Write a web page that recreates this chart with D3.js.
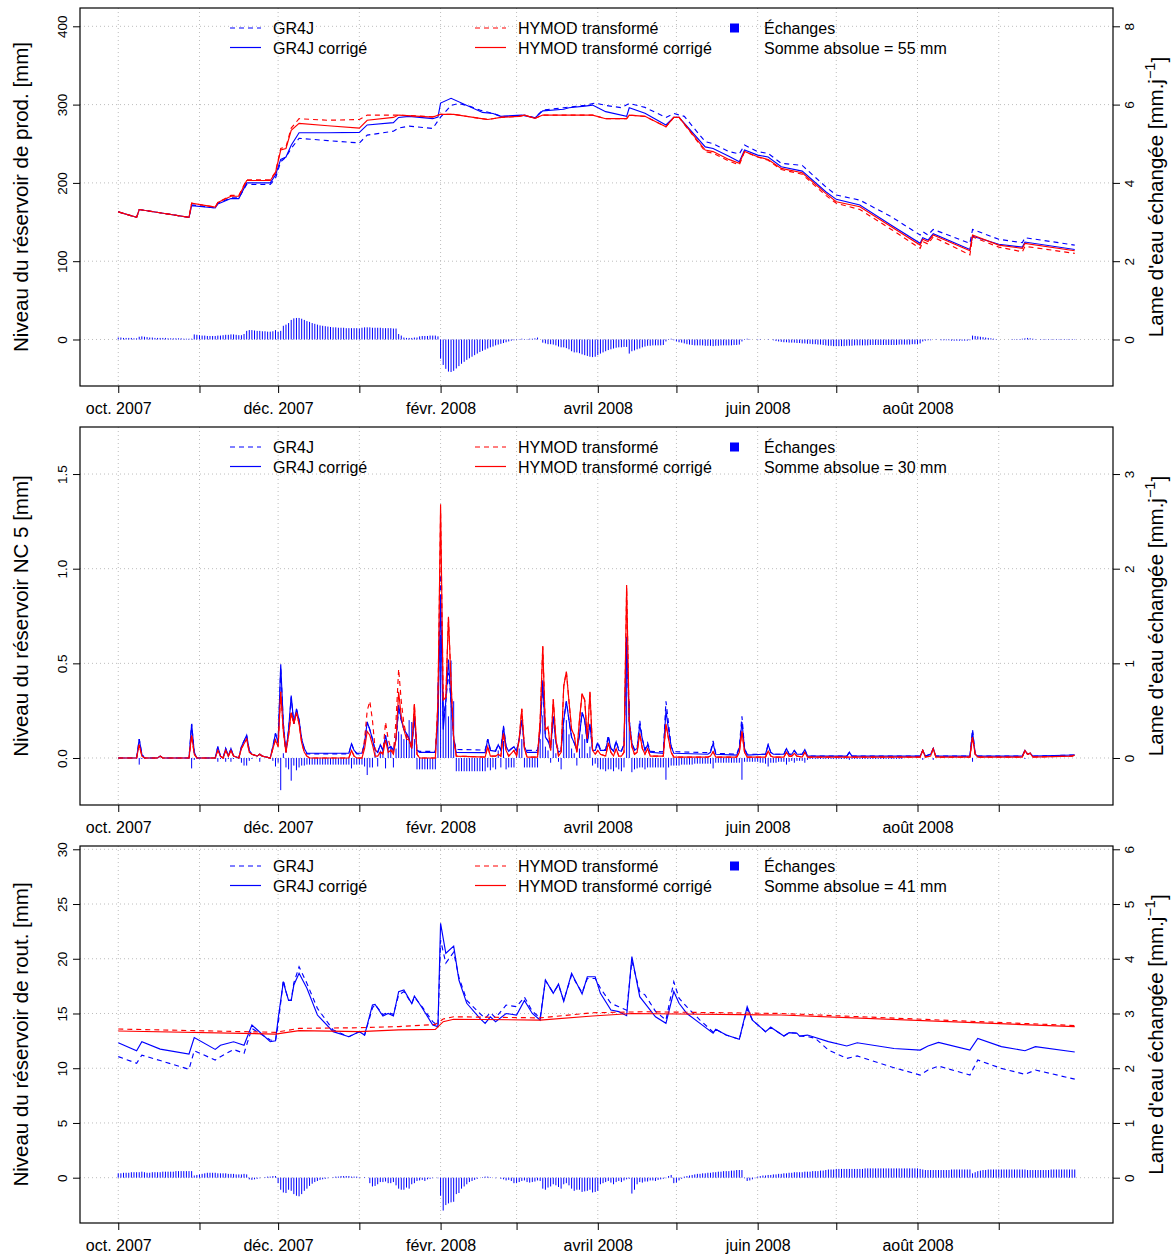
<!DOCTYPE html>
<html><head><meta charset="utf-8">
<script src="https://cdn.jsdelivr.net/npm/d3@7"></script>
<style>
body{margin:0;background:#fff}
text{font-family:"Liberation Sans",Arial,Helvetica,sans-serif;fill:#000}
</style></head>
<body><svg id="c" width="1174" height="1256"></svg>
<script>
// ---------- DATA ----------
const monthLabels = ["oct. 2007","","déc. 2007","","févr. 2008","","avril 2008","","juin 2008","","août 2008",""];
const seriesNames = ["GR4J","GR4J corrigé","HYMOD transformé","HYMOD transformé corrigé"];
const exchangeName = "Échanges";
const absSums = ["Somme absolue = 55 mm","Somme absolue = 30 mm","Somme absolue = 41 mm"];
const leftTitles = ["Niveau du réservoir de prod. [mm]","Niveau du réservoir NC 5 [mm]","Niveau du réservoir de rout. [mm]"];

// Panel 1 : production store [day index from 1 Oct 2007, mm]
const prod_gr4j = [[0,163],[7,156],[8,166],[27,156],[28,172],[37,168],[38,174],[43,181],[46,181],[49,198],[58,198],[60,206],[62,227],[64,233],[66,244],[69,257],[80,254],[92,251],[95,261],[105,266],[107,270],[111,272.5],[120,269.6],[123,284],[127,299],[130,301.5],[134,298],[138,293],[143,288.7],[146,285],[153,285],[155,286.6],[159,283],[162,293],[170,296],[178,299],[182,302],[186,299],[192,296],[195,301.5],[201,296.4],[209,283.6],[212,288.7],[216,285],[224,252.6],[227,250],[233,240],[237,237],[239,248.3],[244,240],[248,237.6],[253,225],[261,222.3],[270,195],[274,184.5],[283,178],[295,156.8],[306,133.4],[307,137.7],[309,133.4],[311,140.6],[325,122.8],[326,140.6],[336,128],[345,123.6],[346,130],[365,120.6]];
const prod_gr4jc = [[0,163],[7,156],[8,166],[27,156],[28,171],[37,168],[38,173],[43,180],[46,180],[49,200],[58,200],[60,210],[62,230],[64,233],[66,248],[69,264],[80,264],[92,264.5],[95,274],[105,277],[107,283.6],[111,285],[120,282],[122,284],[123,302],[127,308],[139,290],[143,288.7],[146,285],[154,286.6],[159,283],[162,292],[170,294],[172,296],[178,298],[181,299.4],[186,291],[194,285],[195,296],[201,289],[209,274],[212,283.6],[214,283.6],[224,246],[227,244],[233,234],[237,227],[239,242],[244,235.5],[248,233],[253,220.6],[261,215],[270,188.7],[274,179],[283,171.7],[295,146],[306,122.8],[307,130],[309,127],[311,135],[325,115],[326,132],[336,121.7],[345,118],[346,124.5],[365,115]];
const prod_hym = [[0,163],[7,156],[8,166],[27,156],[28,174],[37,169],[38,175],[43,184],[46,184],[49,204],[58,204],[60,214],[62,244],[64,246],[66,270],[69,282],[80,280],[92,281],[95,286.6],[107,286.6],[120,284.5],[123,287.6],[128,287.6],[138,282.4],[141,281],[146,283.6],[153,285],[155,286.6],[159,282.4],[162,286.6],[181,286.6],[186,282],[194,282],[195,286.6],[201,285],[209,271.7],[212,283.6],[214,283.6],[224,240],[227,238],[233,228],[237,223],[239,240],[244,233],[248,229],[253,217],[261,211],[270,184],[274,174],[283,166],[295,140.6],[306,116.4],[307,125],[309,122],[311,131],[325,108],[326,131],[336,118],[345,112],[346,119],[365,110]];
const prod_hymc = [[0,163],[7,156],[8,166],[27,156],[28,174],[37,169],[38,175],[43,183],[46,183],[49,203],[58,203],[60,213],[62,242],[64,244],[66,267],[69,276],[80,273],[92,270],[95,280],[105,283.6],[107,286.6],[120,284],[123,287.6],[128,287.6],[138,282.4],[141,281],[146,283.6],[153,285],[155,286.6],[159,282.4],[162,286.6],[181,286.6],[186,282],[194,282],[195,286.6],[201,285],[209,271.7],[212,283.6],[214,283.6],[224,242],[227,240],[233,230],[237,225],[239,240],[244,233.4],[248,230],[253,218.5],[261,213],[270,186.6],[274,176],[283,169.6],[295,144],[306,120.6],[307,128],[309,125],[311,133.4],[325,113.4],[326,133.4],[336,120.6],[345,116.4],[346,122.8],[365,113.4]];
// daily exchanges, mm/d, 1 Oct 2007 .. 30 Sep 2008
const ex_prod = [
0.05,0.05,0.04,0.04,0.04,0.04,0.03,0.03,0.07,0.08,
0.07,0.06,0.05,0.05,0.04,0.04,0.04,0.04,0.04,0.03,
0.03,0.03,0.03,0.03,0.03,0.02,0.02,0.02,0.02,
0.13,0.12,0.11,0.1,0.1,0.09,0.09,0.09,0.09,0.1,
0.1,0.11,0.12,0.12,0.13,0.13,0.12,0.11,0.11,0.14,
0.22,0.24,0.24,0.23,0.22,0.22,0.21,0.21,0.2,0.2,0.21,
0.24,0.2,0.22,0.35,0.38,0.42,0.5,0.54,0.55,0.55,0.53,
0.5,0.47,0.45,0.42,0.4,0.38,0.36,0.35,0.34,0.33,
0.32,0.31,0.31,0.3,0.3,0.3,0.29,0.29,0.29,0.29,0.29,0.28,
0.3,0.31,0.31,0.31,0.3,0.3,0.3,0.3,0.29,0.29,0.29,0.29,0.28,0.28,0.14,
0.1,0.05,0.04,0.04,0.04,0.05,0.05,
0.08,0.09,0.09,0.09,0.1,0.1,0.1,0.08,
-0.49,-0.65,-0.75,-0.82,-0.83,-0.8,-0.74,-0.68,-0.62,-0.57,
-0.52,-0.48,-0.44,-0.4,-0.36,-0.32,-0.29,-0.26,-0.23,-0.2,
-0.18,-0.15,-0.13,-0.11,-0.09,-0.07,-0.05,-0.03,-0.02,
0.01,0.01,0.02,0.01,0.01,0.02,0.02,0.03,0.05,0.0,
-0.08,-0.1,-0.12,-0.12,-0.13,-0.15,-0.18,-0.2,-0.2,-0.22,
-0.25,-0.3,-0.33,-0.33,-0.35,-0.38,-0.4,-0.42,-0.44,-0.45,-0.44,
-0.4,-0.36,-0.33,-0.3,-0.27,-0.25,-0.23,-0.21,-0.2,-0.2,-0.19,-0.19,-0.36,
-0.3,-0.28,-0.25,-0.23,-0.2,-0.18,-0.16,-0.16,-0.15,-0.15,-0.15,-0.15,-0.14,-0.05,0.01,0.02,
-0.02,-0.05,-0.07,-0.08,-0.1,-0.12,-0.13,-0.14,-0.15,-0.15,
-0.15,-0.15,-0.16,-0.16,-0.16,-0.17,-0.16,-0.16,-0.15,-0.15,
-0.15,-0.15,-0.15,-0.14,-0.14,-0.13,-0.05,0.01,0.02,
0.01,0.0,0.0,-0.01,-0.01,0.0,0.0,0.01,0.0,-0.02,-0.04,
-0.05,-0.06,-0.07,-0.07,-0.08,-0.08,-0.08,-0.09,-0.09,-0.1,-0.1,
-0.11,-0.11,-0.12,-0.12,-0.13,-0.13,-0.14,-0.15,-0.16,-0.16,-0.17,
-0.17,-0.17,-0.17,-0.17,-0.16,-0.16,-0.16,-0.15,-0.15,-0.15,-0.15,
-0.15,-0.15,-0.14,-0.14,-0.14,-0.14,-0.14,-0.14,-0.14,-0.14,-0.14,
-0.14,-0.14,-0.13,-0.13,-0.13,-0.13,-0.13,-0.12,-0.12,-0.12,-0.1,-0.05,-0.03,
-0.02,-0.02,0.0,0.01,0.0,-0.02,-0.02,-0.02,-0.02,-0.03,-0.03,-0.03,-0.03,-0.03,-0.03,-0.03,-0.02,
0.1,0.09,0.08,0.07,0.06,0.05,0.04,0.03,0.02,0.01,
0,0,0,0,0,-0.01,-0.01,-0.01,-0.01,0.02,
0.03,0.04,0.03,0.02,0.01,0,-0.01,-0.01,-0.01,-0.01,
-0.01,-0.01,-0.01,-0.01,-0.01,-0.01,-0.01,-0.01,-0.01,-0.01];

// Panel 2 : NC 5 store [mm]
const nc_gr4jc = [[0,0],[7,0],[8,0.1],[9,0.02],[10,0],[15,0],[16,0.01],[17,0],[27,0],[28,0.18],[29,0.03],[30,0],[37,0],[38,0.06],[39,0.01],[40,0],[41,0.05],[42,0.01],[43,0.05],[44,0.01],[46,0],[47,0.06],[49,0.12],[50,0.04],[51,0.02],[53,0.01],[54,0.02],[55,0.01],[58,0],[59,0.06],[60,0.13],[61,0.08],[62,0.495],[63,0.18],[64,0.03],[65,0.15],[66,0.33],[67,0.18],[68,0.26],[69,0.2],[70,0.1],[71,0.05],[72,0.025],[88,0.025],[89,0.075],[90,0.04],[91,0.025],[93,0.025],[94,0.08],[95,0.19],[96,0.15],[97,0.1],[98,0.04],[99,0.03],[100,0.07],[101,0.04],[102,0.12],[103,0.05],[104,0.06],[105,0.04],[106,0.1],[107,0.28],[108,0.2],[109,0.15],[110,0.13],[111,0.1],[112,0.05],[113,0.22],[114,0.04],[115,0.03],[121,0.03],[122,0.2],[123,0.84],[124,0.15],[125,0.3],[126,0.52],[127,0.3],[128,0.1],[129,0.03],[140,0.028],[141,0.1],[142,0.04],[144,0.035],[145,0.07],[146,0.04],[147,0.165],[148,0.06],[149,0.035],[151,0.06],[152,0.035],[153,0.1],[154,0.2],[155,0.06],[156,0.03],[160,0.03],[161,0.15],[162,0.41],[163,0.11],[164,0.09],[165,0.05],[166,0.22],[167,0.08],[168,0.03],[169,0.04],[170,0.2],[171,0.3],[172,0.2],[173,0.11],[174,0.08],[175,0.04],[176,0.12],[177,0.24],[178,0.2],[179,0.08],[180,0.18],[181,0.04],[182,0.04],[183,0.077],[184,0.04],[186,0.04],[187,0.11],[188,0.05],[189,0.035],[190,0.085],[191,0.04],[192,0.035],[193,0.07],[194,0.64],[195,0.2],[196,0.08],[197,0.04],[198,0.05],[199,0.174],[200,0.1],[201,0.04],[202,0.07],[203,0.03],[208,0.025],[209,0.25],[210,0.15],[211,0.06],[212,0.025],[225,0.02],[226,0.03],[227,0.077],[228,0.02],[236,0.015],[237,0.05],[238,0.19],[239,0.05],[240,0.015],[247,0.02],[248,0.07],[249,0.03],[250,0.02],[254,0.02],[255,0.05],[256,0.02],[257,0.02],[258,0.04],[259,0.02],[261,0.02],[262,0.045],[263,0.01],[278,0.01],[279,0.03],[280,0.01],[306,0.01],[307,0.04],[308,0.01],[310,0.02],[311,0.05],[312,0.01],[325,0.01],[326,0.14],[327,0.02],[328,0.01],[345,0.01],[346,0.04],[347,0.02],[348,0.025],[349,0.01],[365,0.016]];
const nc_gr4j = [[0,0],[7,0],[8,0.1],[9,0.02],[10,0],[15,0],[16,0.01],[17,0],[27,0],[28,0.18],[29,0.03],[30,0],[37,0],[38,0.06],[39,0.01],[40,0],[41,0.05],[42,0.01],[43,0.05],[44,0.01],[46,0],[47,0.06],[49,0.12],[50,0.04],[51,0.02],[53,0.01],[54,0.02],[55,0.01],[58,0],[59,0.06],[60,0.13],[61,0.08],[62,0.48],[63,0.18],[64,0.03],[65,0.15],[66,0.32],[67,0.18],[68,0.26],[69,0.2],[70,0.1],[71,0.05],[72,0.022],[88,0.022],[89,0.075],[90,0.04],[91,0.022],[93,0.022],[94,0.08],[95,0.19],[96,0.15],[97,0.1],[98,0.04],[99,0.03],[100,0.07],[101,0.04],[102,0.12],[103,0.05],[104,0.06],[105,0.04],[106,0.1],[107,0.25],[108,0.2],[109,0.15],[110,0.13],[111,0.1],[112,0.05],[113,0.22],[114,0.04],[115,0.035],[121,0.035],[122,0.25],[123,0.97],[124,0.2],[125,0.3],[126,0.45],[127,0.3],[128,0.1],[129,0.045],[140,0.042],[141,0.1],[142,0.045],[144,0.04],[145,0.07],[146,0.045],[147,0.17],[148,0.06],[149,0.04],[151,0.06],[152,0.04],[153,0.1],[154,0.2],[155,0.06],[156,0.04],[160,0.04],[161,0.15],[162,0.4],[163,0.11],[164,0.09],[165,0.05],[166,0.22],[167,0.08],[168,0.04],[169,0.045],[170,0.2],[171,0.3],[172,0.2],[173,0.11],[174,0.08],[175,0.045],[176,0.12],[177,0.24],[178,0.2],[179,0.08],[180,0.18],[181,0.045],[182,0.045],[183,0.085],[184,0.045],[186,0.045],[187,0.12],[188,0.05],[189,0.04],[190,0.09],[191,0.045],[192,0.04],[193,0.07],[194,0.62],[195,0.2],[196,0.08],[197,0.045],[198,0.05],[199,0.2],[200,0.1],[201,0.045],[202,0.08],[203,0.035],[208,0.033],[209,0.3],[210,0.18],[211,0.06],[212,0.033],[225,0.028],[226,0.035],[227,0.09],[228,0.025],[236,0.02],[237,0.06],[238,0.22],[239,0.05],[240,0.02],[247,0.02],[248,0.07],[249,0.03],[250,0.02],[254,0.02],[255,0.05],[256,0.02],[257,0.02],[258,0.04],[259,0.02],[261,0.02],[262,0.045],[263,0.01],[278,0.01],[279,0.03],[280,0.01],[306,0.01],[307,0.04],[308,0.01],[310,0.02],[311,0.05],[312,0.01],[325,0.01],[326,0.15],[327,0.02],[328,0.01],[345,0.01],[346,0.04],[347,0.02],[348,0.025],[349,0.01],[365,0.016]];
const nc_hymc = [[0,0],[7,0],[8,0.07],[9,0.01],[10,0],[15,0],[16,0.01],[17,0],[27,0],[28,0.12],[29,0.02],[30,0],[37,0],[38,0.04],[39,0.01],[40,0],[41,0.04],[42,0.01],[43,0.04],[44,0.01],[46,0],[47,0.05],[49,0.1],[50,0.03],[51,0.02],[53,0.01],[54,0.02],[55,0.01],[58,0],[59,0.05],[60,0.095],[61,0.06],[62,0.35],[63,0.14],[64,0.03],[65,0.12],[66,0.24],[67,0.18],[68,0.24],[69,0.18],[70,0.08],[71,0.03],[72,0.01],[73,0],[88,0],[89,0.04],[90,0.01],[91,0],[93,0],[94,0.05],[95,0.14],[96,0.12],[97,0.07],[98,0.01],[99,0.01],[100,0.03],[101,0.02],[102,0.095],[103,0.03],[104,0.04],[105,0.02],[106,0.1],[107,0.35],[108,0.22],[109,0.15],[110,0.1],[111,0.095],[112,0.05],[113,0.285],[114,0.02],[115,0],[121,0],[122,0.3],[123,1.34],[124,0.306],[125,0.32],[126,0.746],[127,0.4],[128,0.1],[129,0.01],[140,0.005],[141,0.06],[142,0.01],[144,0.01],[145,0.02],[146,0.01],[147,0.13],[148,0.04],[149,0.01],[151,0.04],[152,0.01],[153,0.1],[154,0.26],[155,0.05],[156,0.005],[160,0.005],[161,0.2],[162,0.59],[163,0.15],[164,0.165],[165,0.04],[166,0.31],[167,0.1],[168,0.01],[169,0.03],[170,0.38],[171,0.456],[172,0.3],[173,0.15],[174,0.12],[175,0.03],[176,0.2],[177,0.34],[178,0.306],[179,0.1],[180,0.35],[181,0.04],[182,0.02],[183,0.04],[184,0.02],[186,0.01],[187,0.08],[188,0.03],[189,0.01],[190,0.05],[191,0.01],[192,0.01],[193,0.03],[194,0.914],[195,0.18],[196,0.06],[197,0.02],[198,0.03],[199,0.13],[200,0.05],[201,0.02],[202,0.05],[203,0.01],[208,0.01],[209,0.18],[210,0.1],[211,0.03],[212,0.005],[225,0.005],[226,0.01],[227,0.033],[228,0.005],[236,0.005],[237,0.03],[238,0.14],[239,0.03],[240,0.005],[247,0.005],[248,0.037],[249,0.01],[250,0.005],[254,0.005],[255,0.03],[256,0.01],[257,0.01],[258,0.025],[259,0.01],[261,0.005],[262,0.03],[263,0.005],[306,0.005],[307,0.04],[308,0.005],[310,0.01],[311,0.05],[312,0.005],[325,0.005],[326,0.11],[327,0.02],[328,0.005],[345,0.005],[346,0.04],[347,0.02],[348,0.025],[349,0.005],[364,0.01],[365,0.016]];
const nc_hym = [[0,0],[7,0],[8,0.07],[9,0.01],[10,0],[15,0],[16,0.01],[17,0],[27,0],[28,0.12],[29,0.02],[30,0],[37,0],[38,0.04],[39,0.01],[40,0],[41,0.04],[42,0.01],[43,0.04],[44,0.01],[46,0],[47,0.05],[49,0.1],[50,0.03],[51,0.02],[53,0.01],[54,0.02],[55,0.01],[58,0],[59,0.05],[60,0.095],[61,0.06],[62,0.35],[63,0.14],[64,0.03],[65,0.12],[66,0.24],[67,0.18],[68,0.24],[69,0.18],[70,0.08],[71,0.03],[72,0.01],[73,0],[88,0],[89,0.04],[90,0.01],[91,0],[93,0],[94,0.1],[95,0.25],[96,0.3],[97,0.2],[98,0.05],[99,0.02],[100,0.03],[101,0.03],[102,0.19],[103,0.1],[104,0.05],[105,0.03],[106,0.2],[107,0.47],[108,0.3],[109,0.18],[110,0.12],[111,0.1],[112,0.05],[113,0.285],[114,0.02],[115,0],[121,0],[122,0.3],[123,1.3],[124,0.306],[125,0.32],[126,0.74],[127,0.4],[128,0.1],[129,0.01],[140,0.005],[141,0.06],[142,0.01],[144,0.01],[145,0.02],[146,0.01],[147,0.13],[148,0.04],[149,0.01],[151,0.04],[152,0.01],[153,0.1],[154,0.26],[155,0.05],[156,0.005],[160,0.005],[161,0.2],[162,0.59],[163,0.15],[164,0.165],[165,0.04],[166,0.31],[167,0.1],[168,0.01],[169,0.03],[170,0.38],[171,0.456],[172,0.3],[173,0.15],[174,0.12],[175,0.03],[176,0.2],[177,0.34],[178,0.306],[179,0.1],[180,0.35],[181,0.04],[182,0.02],[183,0.04],[184,0.02],[186,0.01],[187,0.08],[188,0.03],[189,0.01],[190,0.05],[191,0.01],[192,0.01],[193,0.03],[194,0.9],[195,0.18],[196,0.06],[197,0.02],[198,0.03],[199,0.13],[200,0.05],[201,0.02],[202,0.05],[203,0.01],[208,0.01],[209,0.18],[210,0.1],[211,0.03],[212,0.005],[225,0.005],[226,0.01],[227,0.033],[228,0.005],[236,0.005],[237,0.03],[238,0.14],[239,0.03],[240,0.005],[247,0.005],[248,0.037],[249,0.01],[250,0.005],[254,0.005],[255,0.03],[256,0.01],[257,0.01],[258,0.025],[259,0.01],[261,0.005],[262,0.03],[263,0.005],[306,0.005],[307,0.04],[308,0.005],[310,0.01],[311,0.05],[312,0.005],[325,0.005],[326,0.11],[327,0.02],[328,0.005],[345,0.005],[346,0.04],[347,0.02],[348,0.025],[349,0.005],[364,0.01],[365,0.016]];
const ex_nc = [
0,0,0,0,0,0,0,0,-0.07,-0.01,
0,0,0,0,0,0,0,0,0,0,
0,0,0,0,0,0,0,0,-0.11,-0.02,
0,0,0,0,0,0,0,0,-0.04,-0.01,
0,-0.04,-0.01,-0.04,-0.01,0,0,-0.05,-0.08,-0.08,
-0.03,-0.01,0,0,-0.04,0,0,0,0,-0.03,
-0.09,-0.05,-0.34,0.05,-0.1,-0.12,-0.24,-0.08,-0.13,-0.1,
-0.08,-0.08,-0.07,-0.07,-0.07,-0.07,-0.07,-0.07,-0.07,-0.07,
-0.07,-0.07,-0.07,-0.07,-0.07,-0.07,-0.07,-0.07,-0.07,-0.11,
-0.07,-0.07,-0.07,-0.07,-0.09,-0.18,-0.1,-0.1,0.06,-0.09,
0.08,0.1,-0.11,0.1,0.12,-0.1,0.1,0.28,0.25,0.2,
0.26,0.4,0.38,0.2,-0.12,-0.12,-0.12,-0.12,-0.12,-0.12,
-0.12,-0.12,0.8,1.3,0.7,0.56,0.44,1.03,0.6,-0.14,
-0.14,-0.14,-0.14,-0.14,-0.14,-0.14,-0.14,-0.14,-0.14,-0.14,
-0.14,-0.1,-0.13,-0.1,-0.12,0.08,-0.1,0.18,-0.12,-0.1,
-0.1,-0.1,0.05,0.1,0.2,-0.1,-0.1,-0.1,-0.1,-0.1,
-0.1,0.2,0.45,0.12,0.08,-0.05,0.2,0.05,-0.04,-0.12,
0.3,0.4,0.25,0.1,0.05,-0.08,0.1,0.25,0.2,0.05,
0.12,-0.08,-0.06,-0.1,-0.12,-0.12,-0.14,-0.12,-0.12,-0.14,
-0.1,-0.12,-0.14,-0.1,1.25,0.6,-0.15,-0.12,-0.11,-0.1,
-0.1,-0.12,-0.1,-0.1,-0.1,-0.1,-0.1,-0.1,-0.1,-0.23,
-0.1,-0.08,-0.08,-0.08,-0.08,-0.07,-0.07,-0.07,-0.07,-0.07,
-0.06,-0.06,-0.06,-0.06,-0.06,-0.06,-0.06,-0.11,-0.05,-0.05,
-0.05,-0.05,-0.05,-0.05,-0.05,-0.05,-0.05,-0.05,-0.23,-0.04,
-0.04,-0.04,-0.04,-0.04,-0.04,-0.05,-0.05,-0.06,-0.09,-0.05,
-0.05,-0.05,-0.04,-0.04,-0.04,-0.07,-0.04,-0.03,-0.05,-0.03,
-0.03,-0.03,-0.05,-0.02,-0.01,-0.01,-0.01,-0.01,-0.01,-0.01,
-0.01,-0.01,-0.01,-0.01,-0.01,-0.01,-0.01,-0.01,-0.01,-0.02,
-0.01,-0.01,-0.01,-0.01,-0.01,-0.01,-0.01,-0.01,-0.01,-0.01,
-0.01,-0.01,-0.01,-0.01,-0.01,-0.01,-0.01,-0.01,-0.01,-0.01,
0,0,0,0,0,0,0,-0.02,0,0,
0,-0.02,0,0,0,0,0,0,0,0,
0,0,0,0,0,0,-0.04,0,0,0,
0,0,0,0,0,0,0,0,0,0,
0,0,0,0,0,0,-0.01,0,0,0,
0,0,0,0,0,0,0,0,0,0,
0,0,0,0,0,0];

// Panel 3 : routing store [mm]
const rout_gr4j = [[0,11.06],[7,10.45],[9,11.2],[16,10.7],[27,9.9],[29,11.6],[37,10.75],[39,11.05],[44,11.72],[48,11.36],[51,13.64],[58,12.58],[60,12.5],[61,14.0],[63,18.05],[64,17.0],[65,16.2],[66,16.2],[67,17.8],[69,19.27],[72,17.75],[76,15.47],[82,13.5],[88,12.88],[92,13.34],[94,13.03],[97,15.5],[98,15.83],[101,14.9],[103,15.1],[105,14.9],[107,16.7],[109,17.0],[112,15.9],[113,16.5],[116,15.6],[120,14.25],[122,13.9],[123,21.7],[125,19.6],[128,20.6],[130,18.3],[133,16.2],[138,15.0],[140,14.56],[142,15.07],[144,14.6],[148,15.77],[152,15.62],[155,16.5],[158,15.2],[161,14.6],[163,18.0],[166,16.9],[168,17.6],[170,16.2],[173,18.5],[177,16.9],[179,18.2],[182,18.2],[184,17.3],[188,15.93],[191,15.62],[194,15.3],[196,19.8],[199,17.0],[201,16.7],[205,15.2],[209,14.4],[212,17.9],[214,16.4],[217,15.6],[222,14.4],[227,13.3],[228,13.55],[232,13.03],[237,12.64],[240,15.4],[242,14.4],[247,13.34],[249,13.74],[254,12.94],[256,13.25],[259,13.2],[260,12.94],[263,12.9],[266,12.73],[271,11.66],[278,10.9],[282,11.12],[296,10.05],[306,9.38],[309,9.84],[313,10.2],[325,9.38],[328,10.75],[337,9.99],[346,9.44],[350,9.84],[365,9.0]];
const rout_gr4jc = [[0,12.33],[7,11.6],[9,12.42],[16,11.75],[27,11.3],[29,12.8],[37,11.72],[39,12.1],[44,12.42],[48,12.1],[51,13.95],[58,12.42],[60,12.5],[61,14.5],[63,17.9],[64,17.0],[65,16.2],[66,16.2],[67,17.6],[69,18.67],[72,17.3],[76,14.86],[82,13.34],[88,12.88],[92,13.34],[94,13.03],[97,15.77],[98,15.83],[101,14.77],[103,15.0],[105,14.77],[107,17.0],[109,17.15],[112,15.9],[113,16.6],[116,15.5],[120,13.95],[122,13.8],[123,23.24],[125,20.5],[128,21.16],[130,18.06],[133,15.93],[138,14.56],[140,14.1],[142,14.7],[144,14.25],[148,15.0],[152,14.86],[155,16.2],[158,15.0],[161,14.4],[163,18.06],[166,16.84],[168,17.69],[170,16.1],[173,18.67],[177,16.78],[179,18.36],[182,18.36],[184,16.84],[188,15.32],[191,15.17],[194,14.8],[196,20.2],[199,16.54],[201,15.93],[205,14.7],[209,14.1],[212,17.0],[214,15.93],[217,15.0],[222,14.1],[227,13.2],[228,13.55],[232,13.03],[237,12.64],[240,15.62],[242,14.4],[247,13.34],[249,13.74],[254,12.94],[256,13.25],[259,13.2],[260,12.94],[263,13.03],[271,12.43],[278,12.03],[282,12.33],[296,11.8],[306,11.66],[309,12.03],[313,12.36],[325,11.66],[328,12.73],[337,11.97],[346,11.6],[350,11.97],[365,11.48]];
const rout_hym = [[0,13.58],[60,13.28],[69,13.64],[92,13.7],[107,13.8],[121,14.0],[124,14.5],[128,14.7],[161,14.6],[181,15.07],[201,15.16],[253,15.0],[365,13.9]];
const rout_hymc = [[0,13.4],[60,13.12],[69,13.43],[92,13.34],[107,13.5],[121,13.55],[124,14.25],[128,14.47],[161,14.4],[181,14.77],[196,15.0],[253,14.86],[365,13.8]];
const ex_rout = [
0.08,0.08,0.09,0.09,0.09,0.1,0.1,0.1,0.1,0.11,
0.1,0.09,0.09,0.1,0.1,0.1,0.1,0.11,0.11,0.11,
0.11,0.11,0.12,0.12,0.12,0.12,0.12,0.12,0.12,0.04,
0.05,0.06,0.07,0.08,0.09,0.09,0.09,0.09,0.08,0.08,
0.08,0.08,0.07,0.07,0.07,0.06,0.06,0.06,0.07,0.06,
-0.03,-0.04,-0.03,-0.02,-0.01,0.0,0.01,0.02,0.02,0.03,
0.03,-0.1,-0.22,-0.27,-0.28,-0.22,-0.24,-0.3,-0.33,-0.34,
-0.3,-0.24,-0.2,-0.15,-0.11,-0.08,-0.06,-0.04,-0.03,-0.02,
-0.01,0.0,0.01,0.02,0.02,0.03,0.03,0.03,0.03,0.02,
0.02,0.02,0.01,0.0,0.01,0.0,-0.1,-0.16,-0.15,-0.12,
-0.08,-0.08,-0.07,-0.1,-0.1,-0.08,-0.14,-0.2,-0.22,-0.22,
-0.18,-0.2,-0.12,-0.1,-0.06,-0.05,-0.04,-0.06,-0.03,-0.02,
-0.01,0.0,-0.01,-0.33,-0.6,-0.5,-0.47,-0.45,-0.44,-0.3,
-0.28,-0.2,-0.16,-0.12,-0.08,-0.06,-0.04,-0.02,0.0,0.01,
0.02,0.02,0.01,0.0,-0.01,0.0,-0.02,-0.03,-0.05,-0.04,
-0.06,-0.1,-0.1,-0.08,-0.06,-0.05,-0.08,-0.09,-0.08,-0.07,
-0.05,-0.06,-0.2,-0.22,-0.18,-0.16,-0.12,-0.14,-0.17,-0.2,
-0.12,-0.1,-0.14,-0.2,-0.24,-0.22,-0.22,-0.26,-0.25,-0.24,
-0.22,-0.27,-0.26,-0.24,-0.12,-0.1,-0.08,-0.06,-0.09,-0.12,
-0.08,-0.06,-0.08,-0.05,-0.03,-0.02,-0.29,-0.22,-0.12,-0.08,
-0.09,-0.07,-0.07,-0.05,-0.05,-0.06,-0.04,-0.03,-0.02,-0.01,
0.03,0.05,-0.1,-0.09,-0.05,-0.02,0.02,0.03,0.04,0.05,
0.06,0.07,0.07,0.08,0.08,0.09,0.09,0.1,0.1,0.11,
0.11,0.12,0.12,0.12,0.13,0.13,0.14,0.14,0.14,-0.01,
-0.06,-0.05,-0.03,-0.01,0.02,0.03,0.04,0.04,0.05,0.05,
0.06,0.06,0.07,0.07,0.08,0.08,0.09,0.09,0.1,0.1,
0.1,0.1,0.11,0.11,0.11,0.12,0.12,0.12,0.13,0.13,
0.14,0.15,0.15,0.15,0.16,0.16,0.16,0.16,0.16,0.16,
0.16,0.16,0.16,0.16,0.16,0.17,0.17,0.17,0.17,0.17,
0.17,0.17,0.17,0.17,0.17,0.17,0.17,0.17,0.17,0.17,
0.17,0.17,0.17,0.17,0.17,0.17,0.16,0.15,0.14,0.14,
0.14,0.14,0.14,0.14,0.14,0.14,0.14,0.14,0.15,0.15,
0.15,0.15,0.15,0.15,0.15,0.15,0.08,0.1,0.12,0.13,
0.14,0.14,0.15,0.15,0.15,0.15,0.15,0.15,0.15,0.15,
0.15,0.15,0.15,0.15,0.15,0.15,0.15,0.14,0.14,0.14,
0.14,0.14,0.14,0.14,0.14,0.14,0.15,0.15,0.15,0.15,
0.15,0.15,0.15,0.15,0.15,0.15];

// ---------- DRAWING ----------
const svg = d3.select("#c");
const start = Date.UTC(2007, 9, 1);
const DAY = 86400000;
const dt = d => new Date(start + d * DAY);
const x = d3.scaleUtc().domain([dt(-14.6), dt(379.6)]).range([80, 1113]);
const monthTicks = d3.utcMonth.range(new Date(Date.UTC(2007, 9, 1)), new Date(Date.UTC(2008, 9, 1)));
const FONT = '"Liberation Sans",Arial,Helvetica,sans-serif';
const BLUE = "#0000ff", RED = "#ff0000", GRID = "#bdbdbd";

const panels = [
  {top: 8, bottom: 386, yDom: [-59.39, 423.37], yTicks: [0,100,200,300,400], yFmt: d3.format("d"),
   rDom: [-1.1878, 8.4674], rTicks: [0,2,4,6,8], series: [prod_gr4j, prod_gr4jc, prod_hym, prod_hymc], ex: ex_prod},
  {top: 427, bottom: 805, yDom: [-0.2483, 1.7485], yTicks: [0,0.5,1,1.5], yFmt: d3.format(".1f"),
   rDom: [-0.4966, 3.497], rTicks: [0,1,2,3], series: [nc_gr4j, nc_gr4jc, nc_hym, nc_hymc], ex: ex_nc},
  {top: 846, bottom: 1223, yDom: [-4.138, 30.30], yTicks: [0,5,10,15,20,25,30], yFmt: d3.format("d"),
   rDom: [-0.8277, 6.06], rTicks: [0,1,2,3,4,5,6], series: [rout_gr4j, rout_gr4jc, rout_hym, rout_hymc], ex: ex_rout}
];
const styles = [
  {color: BLUE, dash: "5,4"}, {color: BLUE, dash: null},
  {color: RED, dash: "5,4"}, {color: RED, dash: null}
];

panels.forEach((p, pi) => {
  const y = d3.scaleLinear().domain(p.yDom).range([p.bottom, p.top]);
  const yr = d3.scaleLinear().domain(p.rDom).range([p.bottom, p.top]);
  const g = svg.append("g");
  const clipId = "clip" + pi;
  g.append("clipPath").attr("id", clipId).append("rect")
    .attr("x", 80).attr("y", p.top).attr("width", 1033).attr("height", p.bottom - p.top);

  // grid
  g.append("g").selectAll("line").data(p.yTicks).join("line")
    .attr("x1", 80).attr("x2", 1113).attr("y1", d => y(d)).attr("y2", d => y(d))
    .attr("stroke", GRID).attr("stroke-dasharray", "1,3");
  g.append("g").selectAll("line").data(monthTicks).join("line")
    .attr("x1", d => x(d)).attr("x2", d => x(d)).attr("y1", p.top).attr("y2", p.bottom)
    .attr("stroke", GRID).attr("stroke-dasharray", "1,3");

  const plot = g.append("g").attr("clip-path", `url(#${clipId})`);
  // exchange bars (right axis)
  plot.append("g").selectAll("line").data(p.ex).join("line")
    .attr("x1", (v, i) => x(dt(i))).attr("x2", (v, i) => x(dt(i)))
    .attr("y1", yr(0)).attr("y2", v => yr(v))
    .attr("stroke", BLUE).attr("stroke-width", 1);

  // series lines
  const line = d3.line().x(d => x(dt(d[0]))).y(d => y(d[1]));
  p.series.forEach((s, si) => {
    plot.append("path").datum(s).attr("d", line).attr("fill", "none")
      .attr("stroke", styles[si].color).attr("stroke-width", 1.15)
      .attr("stroke-dasharray", styles[si].dash);
  });

  // box
  g.append("rect").attr("x", 80).attr("y", p.top).attr("width", 1033).attr("height", p.bottom - p.top)
    .attr("fill", "none").attr("stroke", "#000").attr("stroke-width", 1.2);

  // x axis
  const xa = g.append("g").attr("transform", `translate(0,${p.bottom})`)
    .call(d3.axisBottom(x).tickValues(monthTicks).tickSize(7).tickFormat((d, i) => monthLabels[i]));
  xa.select(".domain").remove();
  xa.selectAll("line").attr("stroke", "#000");
  xa.selectAll("text").attr("y", 28).attr("dy", 0).style("font-size", "16px").style("font-family", FONT);

  // left axis
  const la = g.append("g").attr("transform", "translate(80,0)")
    .call(d3.axisLeft(y).tickValues(p.yTicks).tickSize(7).tickFormat(p.yFmt));
  la.select(".domain").remove();
  la.selectAll("line").attr("stroke", "#000");
  la.selectAll("text").attr("x", null).attr("dy", null).attr("text-anchor", "middle")
    .attr("transform", "translate(-13,0) rotate(-90)").style("font-size", "13.5px").style("font-family", FONT);

  // right axis
  const ra = g.append("g").attr("transform", "translate(1113,0)")
    .call(d3.axisRight(yr).tickValues(p.rTicks).tickSize(7).tickFormat(d3.format("d")));
  ra.select(".domain").remove();
  ra.selectAll("line").attr("stroke", "#000");
  ra.selectAll("text").attr("x", null).attr("dy", null).attr("text-anchor", "middle")
    .attr("transform", "translate(21,0) rotate(-90)").style("font-size", "13.5px").style("font-family", FONT);

  const midY = (p.top + p.bottom) / 2;
  // left title
  g.append("text").attr("transform", `translate(28,${midY}) rotate(-90)`).attr("text-anchor", "middle")
    .style("font-size", "20.5px").text(leftTitles[pi]);
  // right title
  const rt = g.append("text").attr("transform", `translate(1163,${midY}) rotate(-90)`).attr("text-anchor", "middle")
    .style("font-size", "20.5px");
  rt.append("tspan").text("Lame d'eau échangée [mm.j");
  rt.append("tspan").attr("dy", "-0.55em").style("font-size", "14.5px").text("−1");
  rt.append("tspan").attr("dy", "0.55em").text("]");

  // legend
  const r1 = p.top + 20, r2 = p.top + 39.5;
  const leg = g.append("g").style("font-size", "16px");
  [[230, 261, r1, 0], [230, 261, r2, 1], [475, 506, r1, 2], [475, 506, r2, 3]].forEach(([a, b, yy, si]) => {
    leg.append("line").attr("x1", a).attr("x2", b).attr("y1", yy).attr("y2", yy)
      .attr("stroke", styles[si].color).attr("stroke-width", 1.2).attr("stroke-dasharray", styles[si].dash);
  });
  leg.append("text").attr("x", 273).attr("y", r1 + 6).text(seriesNames[0]);
  leg.append("text").attr("x", 273).attr("y", r2 + 6).text(seriesNames[1]);
  leg.append("text").attr("x", 518).attr("y", r1 + 6).text(seriesNames[2]);
  leg.append("text").attr("x", 518).attr("y", r2 + 6).text(seriesNames[3]);
  leg.append("rect").attr("x", 730).attr("y", r1 - 4.5).attr("width", 9).attr("height", 9).attr("fill", BLUE);
  leg.append("text").attr("x", 764).attr("y", r1 + 6).text(exchangeName);
  leg.append("text").attr("x", 764).attr("y", r2 + 6).text(absSums[pi]);
});
</script>
</body></html>
